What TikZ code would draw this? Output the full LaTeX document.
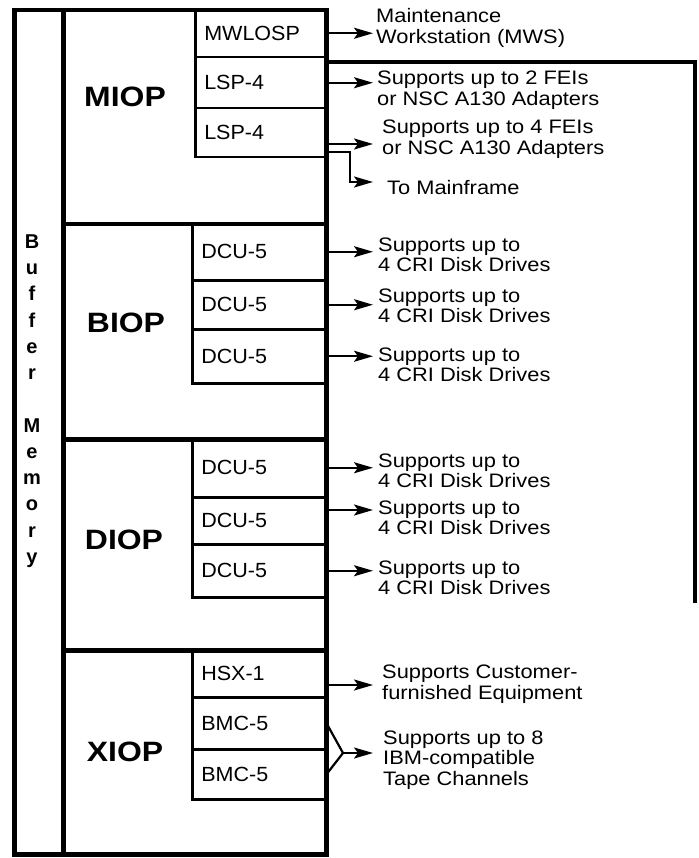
\documentclass[tikz,border=0pt]{standalone}
\usepackage{fontspec}
\setmainfont{Liberation Sans}
\newfontfamily\bodyf[FakeStretch=1.12]{Liberation Sans}
\newfontfamily\unitf[FakeStretch=1.05]{Liberation Sans}
\newfontfamily\boldf[FakeStretch=1.14]{Liberation Sans}
\usetikzlibrary{arrows.meta}
\begin{document}
\begin{tikzpicture}[x=1pt,y=-1pt,
  frame/.style={line width=4.5pt},
  box/.style={draw,line width=4.5pt,anchor=north west,inner sep=0pt},
  unit/.style={draw,line width=2.5pt,anchor=north west,inner xsep=9pt,inner ysep=0pt,
    align=left,font=\unitf\fontsize{20.5}{22}\selectfont},
  modlabel/.style={inner sep=0pt,font=\boldf\bfseries\fontsize{28}{30}\selectfont},
  txt/.style={anchor=west,inner sep=0pt,align=left,font=\bodyf\fontsize{19.5}{20.5}\selectfont},
  conn/.style={line width=2.2pt,-{Stealth[length=19pt,width=11pt,inset=4pt]}},
  wire/.style={line width=2.2pt}]
\useasboundingbox (0,0) rectangle (698,858);
% outer structure
\node[box,minimum width=312pt,minimum height=844pt] (outer) at (12,8) {};
\node[box,minimum width=49pt,minimum height=844pt] (buf) at (12,8) {};
\node[inner sep=0pt,align=center,font=\bfseries\fontsize{20}{26.25}\selectfont] (buflabel) at (32,401)
  {B\\u\\f\\f\\e\\r\\[26.25pt]M\\e\\m\\o\\r\\y};
% modules
\node[box,minimum width=263pt,minimum height=214pt] (miop) at (61,8) {};
\node[box,minimum width=263pt,minimum height=215pt] (biop) at (61,222) {};
\node[box,minimum width=263pt,minimum height=211pt] (diop) at (61,437) {};
\node[box,minimum width=263pt,minimum height=204pt] (xiop) at (61,648) {};
\node[modlabel] (miopL) at (125,97) {MIOP};
\node[modlabel] (biopL) at (126,323) {BIOP};
\node[modlabel] (diopL) at (124,540) {DIOP};
\node[modlabel] (xiopL) at (125,752) {XIOP};
% units
\node[unit,text width=112pt,minimum height=48pt] (u11) at (194,8) {MWLOSP};
\node[unit,text width=112pt,minimum height=51pt] (u12) at (194,56) {LSP-4};
\node[unit,text width=112pt,minimum height=49pt] (u13) at (194,107) {LSP-4};
\node[unit,text width=115pt,minimum height=57pt] (u21) at (191,222) {DCU-5};
\node[unit,text width=115pt,minimum height=49pt] (u22) at (191,279) {DCU-5};
\node[unit,text width=115pt,minimum height=54pt] (u23) at (191,328) {DCU-5};
\node[unit,text width=115pt,minimum height=59pt] (u31) at (191,437) {DCU-5};
\node[unit,text width=115pt,minimum height=47pt] (u32) at (191,496) {DCU-5};
\node[unit,text width=115pt,minimum height=53pt] (u33) at (191,543) {DCU-5};
\node[unit,text width=115pt,minimum height=48pt] (u41) at (191,648) {HSX-1};
\node[unit,text width=115pt,minimum height=52pt] (u42) at (191,696) {BMC-5};
\node[unit,text width=115pt,minimum height=50pt] (u43) at (191,748) {BMC-5};
% right frame
\coordinate (fr1) at (695,62);
\coordinate (fr2) at (695,603);
\draw[frame] (fr1 -| miop.east) -- (fr1) -- (fr2);
% texts
\node[txt] (t11) at (376,28) {Maintenance\\Workstation (MWS)};
\node[txt] (t12) at (377,90) {Supports up to 2 FEIs\\or NSC A130 Adapters};
\node[txt] (t13) at (382,139) {Supports up to 4 FEIs\\or NSC A130 Adapters};
\node[txt] (tmf) at (387,188) {To Mainframe};
\node[txt] (t21) at (378,255) {Supports up to\\4 CRI Disk Drives};
\node[txt] (t22) at (378,306) {Supports up to\\4 CRI Disk Drives};
\node[txt] (t23) at (378,365) {Supports up to\\4 CRI Disk Drives};
\node[txt] (t31) at (378,471) {Supports up to\\4 CRI Disk Drives};
\node[txt] (t32) at (378,518) {Supports up to\\4 CRI Disk Drives};
\node[txt] (t33) at (378,578) {Supports up to\\4 CRI Disk Drives};
\node[txt] (t41) at (382,684) {Supports Customer-\\furnished Equipment};
\node[txt] (t42) at (383,760) {Supports up to 8\\IBM-compatible\\Tape Channels};
% connectors
\coordinate (tipx) at (373,0);
\draw[conn] (u11.east) -- (u11.east -| tipx);
\draw[conn] (u12.east) -- (u12.east -| tipx);
\coordinate (l2a) at (324,144);
\coordinate (l2b) at (324,152);
\coordinate (mfk) at (350,182);
\draw[conn] (l2a) -- (l2a -| tipx);
\draw[conn] (l2b) -| (mfk) -- (mfk -| tipx);
\draw[conn] (u21.east) -- (u21.east -| tipx);
\draw[conn] (u22.east) -- (u22.east -| tipx);
\draw[conn] (u23.east) -- (u23.east -| tipx);
\draw[conn] (u31.east) -- (u31.east -| tipx);
\coordinate (d2a) at (324,510);
\draw[conn] (d2a) -- (d2a -| tipx);
\draw[conn] (u33.east) -- (u33.east -| tipx);
\coordinate (hsa) at (324,685);
\draw[conn] (hsa) -- (hsa -| tipx);
\coordinate (bk) at (343,753);
\draw[wire,line join=miter] (u42.east) -- (bk) -- (u43.east);
\draw[conn] (bk) -- (bk -| tipx);
\end{tikzpicture}
\end{document}
